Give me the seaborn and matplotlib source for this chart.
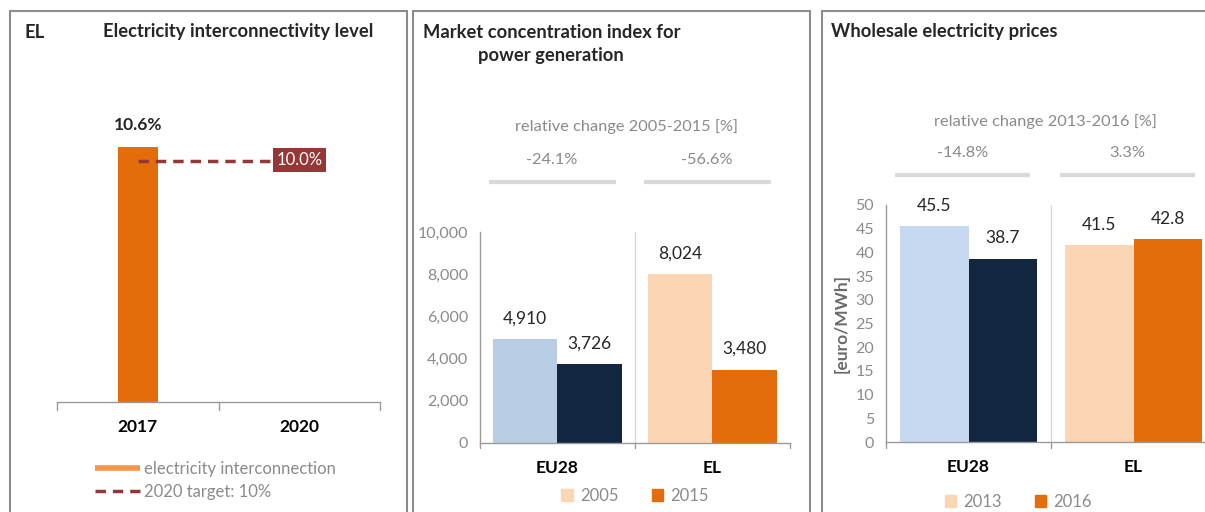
import pandas as pd
import seaborn as sns
import matplotlib.pyplot as plt
from matplotlib.patches import Rectangle, Patch
from matplotlib.lines import Line2D
import matplotlib.transforms as mtransforms

# ---- data ----
inter_years = ["2017", "2020"]
inter_value = [10.6]          # only 2017 measured
inter_target = 10.0

regions = ["EU28", "EL"]
hhi_years = ["2005", "2015"]
hhi_2005 = [4910, 8024]
hhi_2015 = [3726, 3480]
hhi_change = ["-24.1%", "-56.6%"]

price_years = ["2013", "2016"]
price_2013 = [45.5, 41.5]
price_2016 = [38.7, 42.8]
price_change = ["-14.8%", "3.3%"]

sns.set_style("white")
plt.rcParams["font.family"] = ["Lato", "DejaVu Sans"]

GREY = "#8a8a8a"
SPINE = "#9a9a9a"
ORANGE = "#e46c0a"
PEACH = "#fcd5b5"
NAVY = "#12263f"
MAROON = "#953735"
TITLE_FS = 13.2

W, H = 1205, 512
fig = plt.figure(figsize=(W / 100, H / 100), dpi=100)


def px_axes(l, t, r, b):
    return fig.add_axes([l / W, 1 - b / H, (r - l) / W, (b - t) / H])


# panel borders
for l, r in [(10, 407), (413, 810), (822, 1230)]:
    fig.patches.append(Rectangle((l / W, -0.05), (r - l) / W, (H - 11) / H + 0.05,
                                 transform=fig.transFigure, fill=False,
                                 edgecolor="#8c8c8c", linewidth=1.5))


def style_axes(ax, show_y=True):
    sns.despine(ax=ax, top=True, right=True, left=not show_y)
    for s in ["left", "bottom"]:
        ax.spines[s].set_color(SPINE)
        ax.spines[s].set_linewidth(1)
    ax.tick_params(axis="y", colors=GREY, labelsize=11.5, length=5, color=SPINE, width=1)
    ax.tick_params(axis="x", length=0, labelsize=12.5, pad=12)
    for t in ax.get_xticklabels():
        t.set_fontweight("bold")
        t.set_color("black")
    ax.set_xlabel("")
    ax.set_ylabel("")
    # boundary ticks on x axis
    n = len(ax.get_xticks())
    tr = mtransforms.blended_transform_factory(ax.transData, ax.transAxes)
    for xb in [i - 0.5 for i in range(n + 1)]:
        ax.plot([xb, xb], [0, -0.025], transform=tr, color=SPINE, lw=1, clip_on=False)


# ---- panel 1: interconnectivity ----
ax1 = px_axes(57, 65, 380, 402)
df1 = pd.DataFrame({"year": inter_years[:1], "value": inter_value})
sns.barplot(data=df1, x="year", y="value", order=inter_years, color=ORANGE,
            width=0.25, ax=ax1, saturation=1, linewidth=0)
ax1.set_ylim(0, 14)
ax1.set_xlim(-0.5, 1.5)
ax1.set_yticks([])
style_axes(ax1, show_y=False)
ax1.bar_label(ax1.containers[0], labels=[f"{v:.1f}%" for v in inter_value],
              padding=10, fontsize=12.5, fontweight="bold")
ax1.plot([0, 1], [inter_target, inter_target], color=MAROON, lw=2.5,
         dashes=(3, 2))
ax1.text(1, inter_target + 0.05, f"{inter_target:.1f}%", ha="center", va="center",
         color="white", fontsize=12,
         bbox=dict(boxstyle="square,pad=0.22", facecolor=MAROON, edgecolor="none"))
ax1.legend(handles=[Line2D([], [], color="#f79646", lw=4, solid_capstyle="butt"),
                    Line2D([], [], color=MAROON, lw=2.5, dashes=(3, 2))],
           labels=["electricity interconnection", "2020 target: 10%"],
           loc="upper center", bbox_to_anchor=(0.49, -0.13), frameon=False,
           fontsize=12, labelcolor=GREY, handlelength=2.7, handletextpad=0.25,
           labelspacing=0.45)
fig.text(24 / W, 1 - 32 / H, "EL", fontsize=TITLE_FS, fontweight="bold", va="center")
fig.text(238 / W, 1 - 32 / H, "Electricity interconnectivity level", fontsize=TITLE_FS,
         fontweight="bold", va="center", ha="center")


def grouped(ax, v1, v2, years, c_eu, c_el, change, fmt, pad_texts, leg_y):
    df = pd.DataFrame({"region": regions * 2,
                       "year": [years[0]] * 2 + [years[1]] * 2,
                       "value": v1 + v2})
    sns.barplot(data=df, x="region", y="value", hue="year", order=regions,
                palette=[c_el[0], c_el[1]], width=0.835, ax=ax, saturation=1,
                legend=False, linewidth=0)
    for cont, col in zip(ax.containers, c_eu):
        cont.patches[0].set_facecolor(col)
    for cont in ax.containers:
        ax.bar_label(cont, labels=[fmt(p.get_height()) for p in cont.patches],
                     padding=9, fontsize=12.5)
    ax.set_xlim(-0.5, 1.5)
    ax.axvline(0.5, color="#d9d9d9", lw=1)
    style_axes(ax)
    tr = mtransforms.blended_transform_factory(ax.transData, ax.transAxes)
    y_line, y_pct, y_head, head = pad_texts
    for i, lab in enumerate(change):
        c = i - 0.035
        ax.plot([c - 0.41, c + 0.41], [y_line, y_line], transform=tr,
                color="#d9d9d9", lw=3, clip_on=False, solid_capstyle="butt")
        ax.text(c, y_pct, lab, transform=tr, ha="center", va="center",
                color=GREY, fontsize=11.8)
    ax.text(head[0], y_head, head[1], transform=tr, ha="center", va="center",
            color=GREY, fontsize=11.8)
    ax.legend(handles=[Patch(color=c_el[0]), Patch(color=c_el[1])], labels=years,
              loc="upper center", bbox_to_anchor=leg_y, ncol=2,
              frameon=False, fontsize=12, labelcolor=GREY, handlelength=0.7,
              handleheight=0.7, handletextpad=0.4, columnspacing=2.0)


# ---- panel 2: market concentration ----
ax2 = px_axes(480, 232, 790, 443)
grouped(ax2, hhi_2005, hhi_2015, hhi_years, ["#b9cde5", NAVY], [PEACH, ORANGE],
        hhi_change, lambda v: f"{v:,.0f}",
        (1.237, 1.341, 1.498, (0.448, "relative change 2005-2015 [%]")),
        (0.5, -0.14))
ax2.set_ylim(0, 10000)
ax2.set_yticks(range(0, 10001, 2000))
ax2.set_yticklabels([f"{v:,}" for v in range(0, 10001, 2000)])
fig.text(423 / W, 1 - 32 / H, "Market concentration index for", fontsize=TITLE_FS,
         fontweight="bold", va="center")
fig.text(478 / W, 1 - 55 / H, "power generation", fontsize=TITLE_FS,
         fontweight="bold", va="center")

# ---- panel 3: wholesale prices ----
ax3 = px_axes(886, 205, 1216, 442)
grouped(ax3, price_2013, price_2016, price_years, ["#c6d9f1", NAVY], [PEACH, ORANGE],
        price_change, lambda v: f"{v:.1f}",
        (1.127, 1.219, 1.354, (0.464, "relative change 2013-2016 [%]")),
        (0.40, -0.155))
ax3.set_ylim(0, 50)
ax3.set_yticks(range(0, 51, 5))
ax3.set_ylabel("[euro/MWh]", fontsize=12.5, fontweight="bold", color="#6b6b6b",
               labelpad=4)
fig.text(831 / W, 1 - 31 / H, "Wholesale electricity prices", fontsize=TITLE_FS,
         fontweight="bold", va="center")

fig.savefig("out.png", dpi=100)
